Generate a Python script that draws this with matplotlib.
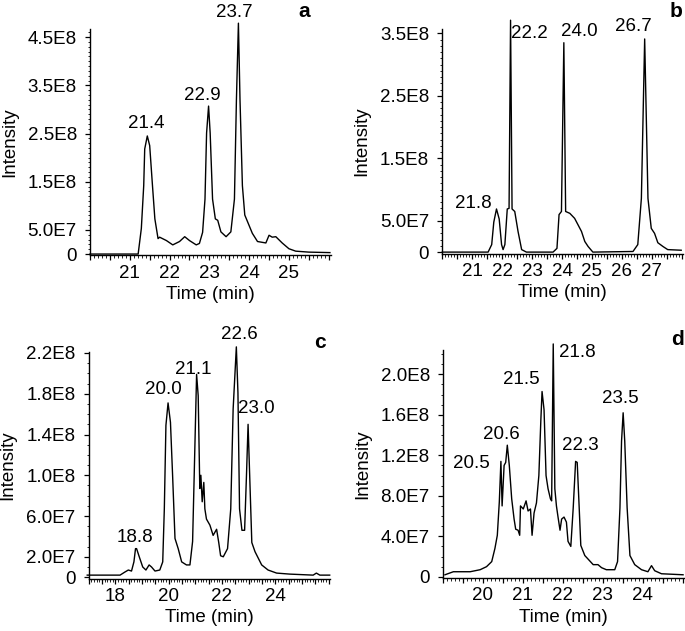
"""Four chromatograms (a-d), intensity vs retention time."""
import matplotlib.pyplot as plt
import numpy as np
from matplotlib.ticker import MultipleLocator, FixedLocator, FuncFormatter

plt.rcParams['font.family'] = ['Liberation Sans', 'DejaVu Sans']
plt.rcParams['font.size'] = 13

# ---- data (intensity in units of 1E8) ----
a_time = [20.0, 21.21, 21.29, 21.35, 21.375, 21.44, 21.5, 21.57, 21.63, 21.71,
          21.75, 21.92, 22.08, 22.25, 22.38, 22.5, 22.67, 22.75, 22.83, 22.89,
          22.93, 22.98, 23.02, 23.08, 23.15, 23.21, 23.29, 23.42, 23.54, 23.63,
          23.68, 23.73, 23.77, 23.83, 23.89, 23.96, 24.08, 24.21, 24.42, 24.5,
          24.58, 24.67, 24.83, 25.0, 25.17, 25.5, 26.03]
a_int = [0.0, 0.0, 0.53, 1.42, 2.18, 2.45, 2.25, 1.42, 0.73, 0.32,
         0.35, 0.28, 0.19, 0.26, 0.36, 0.28, 0.19, 0.22, 0.45, 1.14,
         2.51, 3.07, 2.51, 1.14, 0.73, 0.70, 0.46, 0.36, 0.46, 1.14,
         3.2, 4.79, 3.2, 1.42, 0.81, 0.67, 0.43, 0.26, 0.23, 0.39,
         0.35, 0.36, 0.23, 0.11, 0.06, 0.04, 0.03]

b_time = [20.0, 21.53, 21.65, 21.72, 21.81, 21.9, 21.98, 22.03, 22.09, 22.17,
          22.23, 22.28, 22.33, 22.42, 22.53, 22.65, 22.81, 23.7, 23.83, 23.9,
          23.98, 24.06, 24.12, 24.26, 24.42, 24.53, 24.65, 24.76, 24.87, 25.03,
          26.37, 26.53, 26.65, 26.76, 26.87, 26.98, 27.09, 27.2, 27.37, 27.53,
          27.98]
b_int = [0.0, 0.0, 0.12, 0.48, 0.69, 0.53, 0.12, 0.04, 0.12, 0.69,
         0.70, 3.71, 0.69, 0.65, 0.33, 0.04, 0.0, 0.0, 0.06, 0.60,
         0.65, 3.35, 0.65, 0.62, 0.54, 0.44, 0.33, 0.17, 0.09, 0.0,
         0.01, 0.12, 0.86, 3.41, 0.86, 0.38, 0.30, 0.15, 0.09, 0.04,
         0.03]

c_time = [16.95, 18.18, 18.36, 18.49, 18.61, 18.7, 18.76, 18.8, 18.9, 19.03,
          19.15, 19.27, 19.36, 19.49, 19.67, 19.78, 19.84, 19.9, 19.98, 20.07,
          20.15, 20.24, 20.36, 20.49, 20.67, 20.8, 20.9, 20.96, 21.05, 21.11,
          21.17, 21.21, 21.26, 21.32, 21.36, 21.42, 21.55, 21.67, 21.8, 21.88,
          21.95, 22.05, 22.21, 22.33, 22.42, 22.54, 22.6, 22.66, 22.75, 22.85,
          22.92, 22.98, 23.04, 23.12, 23.24, 23.49, 23.73, 24.05, 24.54, 25.42,
          25.54, 25.67, 26.04]
c_int = [0.02, 0.02, 0.05, 0.07, 0.06, 0.15, 0.28, 0.28, 0.20, 0.10,
         0.07, 0.12, 0.10, 0.06, 0.07, 0.15, 0.67, 1.49, 1.71, 1.52,
         1.00, 0.38, 0.28, 0.15, 0.12, 0.12, 0.35, 1.00, 1.99, 1.78,
         0.87, 1.00, 0.74, 0.93, 0.67, 0.57, 0.51, 0.41, 0.47, 0.34,
         0.21, 0.20, 0.28, 0.67, 1.65, 2.26, 1.81, 0.67, 0.46, 0.46,
         1.00, 1.50, 1.00, 0.34, 0.25, 0.12, 0.07, 0.04, 0.03, 0.02,
         0.04, 0.02, 0.02]

d_time = [19.05, 19.26, 19.68, 19.93, 20.09, 20.22, 20.3, 20.36, 20.41, 20.45,
          20.48, 20.53, 20.57, 20.61, 20.66, 20.72, 20.78, 20.82, 20.88, 20.92,
          20.94, 21.01, 21.08, 21.13, 21.19, 21.23, 21.28, 21.34, 21.4, 21.45,
          21.48, 21.53, 21.58, 21.63, 21.69, 21.72, 21.76, 21.8, 21.84, 21.88,
          21.93, 21.97, 22.03, 22.09, 22.13, 22.2, 22.26, 22.32, 22.36, 22.41,
          22.45, 22.55, 22.76, 22.88, 22.97, 23.09, 23.3, 23.37, 23.43, 23.47,
          23.51, 23.55, 23.61, 23.68, 23.8, 23.97, 24.13, 24.22, 24.3, 24.47,
          25.01]
d_int = [0.02, 0.05, 0.05, 0.07, 0.10, 0.15, 0.28, 0.41, 0.74, 1.14,
         0.70, 1.10, 1.13, 1.30, 1.10, 0.77, 0.57, 0.47, 0.46, 0.41,
         0.70, 0.67, 0.75, 0.65, 0.67, 0.41, 0.63, 0.73, 1.00, 1.55,
         1.83, 1.65, 1.00, 0.87, 0.77, 0.75, 2.30, 0.87, 0.70, 0.59,
         0.46, 0.57, 0.59, 0.54, 0.35, 0.30, 0.68, 1.14, 1.13, 0.68,
         0.31, 0.21, 0.12, 0.12, 0.09, 0.07, 0.07, 0.15, 0.68, 1.34,
         1.62, 1.34, 0.68, 0.21, 0.12, 0.07, 0.05, 0.11, 0.06, 0.03,
         0.02]

# peak labels (retention time text)
a_peaks = ['21.4', '22.9', '23.7']
b_peaks = ['21.8', '22.2', '24.0', '26.7']
c_peaks = ['18.8', '20.0', '21.1', '22.6', '23.0']
d_peaks = ['20.5', '20.6', '21.5', '21.8', '22.3', '23.5']

a_yticks = ['0', '5.0E7', '1.5E8', '2.5E8', '3.5E8', '4.5E8']
b_yticks = ['0', '5.0E7', '1.5E8', '2.5E8', '3.5E8']
c_yticks = ['0', '2.0E7', '6.0E7', '1.0E8', '1.4E8', '1.8E8', '2.2E8']
d_yticks = ['0', '4.0E7', '8.0E7', '1.2E8', '1.6E8', '2.0E8']

a_xlabels = [21, 22, 23, 24, 25]
b_xlabels = [21, 22, 23, 24, 25, 26, 27]
c_xlabels = [18, 20, 22, 24]
d_xlabels = [20, 21, 22, 23, 24]

# ---- layout ----
panels = [
    dict(tag='a', t=a_time, y=a_int, peaks=a_peaks, yt=a_yticks, xl=a_xlabels,
         rect=[0.1314, 0.5951, 0.3514, 0.359], xlim=(20, 26.05), ylim=(-0.03, 4.67),
         lpos=[(21.42, 2.70), (22.83, 3.28), (23.63, 5.02)], tagpos=(25.38, 5.04)),
    dict(tag='b', t=b_time, y=b_int, peaks=b_peaks, yt=b_yticks, xl=b_xlabels,
         rect=[0.6457, 0.5975, 0.3518, 0.3566], xlim=(20, 28.05), ylim=(-0.03, 3.57),
         lpos=[(21.03, 0.78), (22.92, 3.50), (24.59, 3.53), (26.37, 3.61)],
         tagpos=(27.81, 3.85)),
    dict(tag='c', t=c_time, y=c_int, peaks=c_peaks, yt=c_yticks, xl=c_xlabels,
         rect=[0.1293, 0.0829, 0.3524, 0.3593], xlim=(17, 26.05), ylim=(-0.015, 2.21),
         lpos=[(18.74, 0.385), (19.8, 1.84), (20.92, 2.04), (22.64, 2.38), (23.3, 1.66)],
         tagpos=(25.67, 2.30)),
    dict(tag='d', t=d_time, y=d_int, peaks=d_peaks, yt=d_yticks, xl=d_xlabels,
         rect=[0.6467, 0.0835, 0.3528, 0.3618], xlim=(19, 25.05), ylim=(-0.015, 2.24),
         lpos=[(19.72, 1.12), (20.47, 1.41), (20.97, 1.95), (22.36, 2.22),
               (22.44, 1.30), (23.44, 1.76)],
         tagpos=(24.88, 2.34)),
]

fig = plt.figure(figsize=(6.85, 6.31), dpi=100)

for p in panels:
    ax = fig.add_axes(p['rect'])
    ax.plot(p['t'], np.array(p['y']) * 1e8, color='black', lw=1.0, clip_on=False)
    ax.set_xlim(*p['xlim'])
    ax.set_ylim(p['ylim'][0] * 1e8, p['ylim'][1] * 1e8)
    for s in ['top', 'right']:
        ax.spines[s].set_visible(False)
    for s in ['left', 'bottom']:
        ax.spines[s].set_linewidth(1.0)

    yvals = [float(v) for v in p['yt']]
    ax.yaxis.set_major_locator(FixedLocator(yvals))
    ax.set_yticklabels(p['yt'])
    ax.yaxis.set_minor_locator(MultipleLocator(1e7))

    xl = p['xl']
    ax.xaxis.set_major_locator(MultipleLocator(0.5))
    ax.xaxis.set_major_formatter(FuncFormatter(
        lambda v, pos, xl=xl: f'{int(round(v))}' if any(abs(v - k) < 1e-6 for k in xl) else ''))
    ax.xaxis.set_minor_locator(MultipleLocator(0.1))

    ax.tick_params(which='major', length=3.5, width=0.9, labelsize=13.5)
    ax.tick_params(axis='x', which='major', pad=3)
    ax.tick_params(axis='y', which='major', pad=6)
    ax.tick_params(which='minor', length=1.8, width=0.6)

    ax.set_xlabel('Time (min)', fontsize=13.5, labelpad=3)
    ax.set_ylabel('Intensity', fontsize=13.5, labelpad=7)

    for txt, (lx, ly) in zip(p['peaks'], p['lpos']):
        ax.text(lx, ly * 1e8, txt, ha='center', va='center', fontsize=13.5)
    ax.text(p['tagpos'][0], p['tagpos'][1] * 1e8, p['tag'], ha='center', va='center',
            fontsize=15, fontweight='bold', clip_on=False)

fig.savefig('out.png', dpi=100)
